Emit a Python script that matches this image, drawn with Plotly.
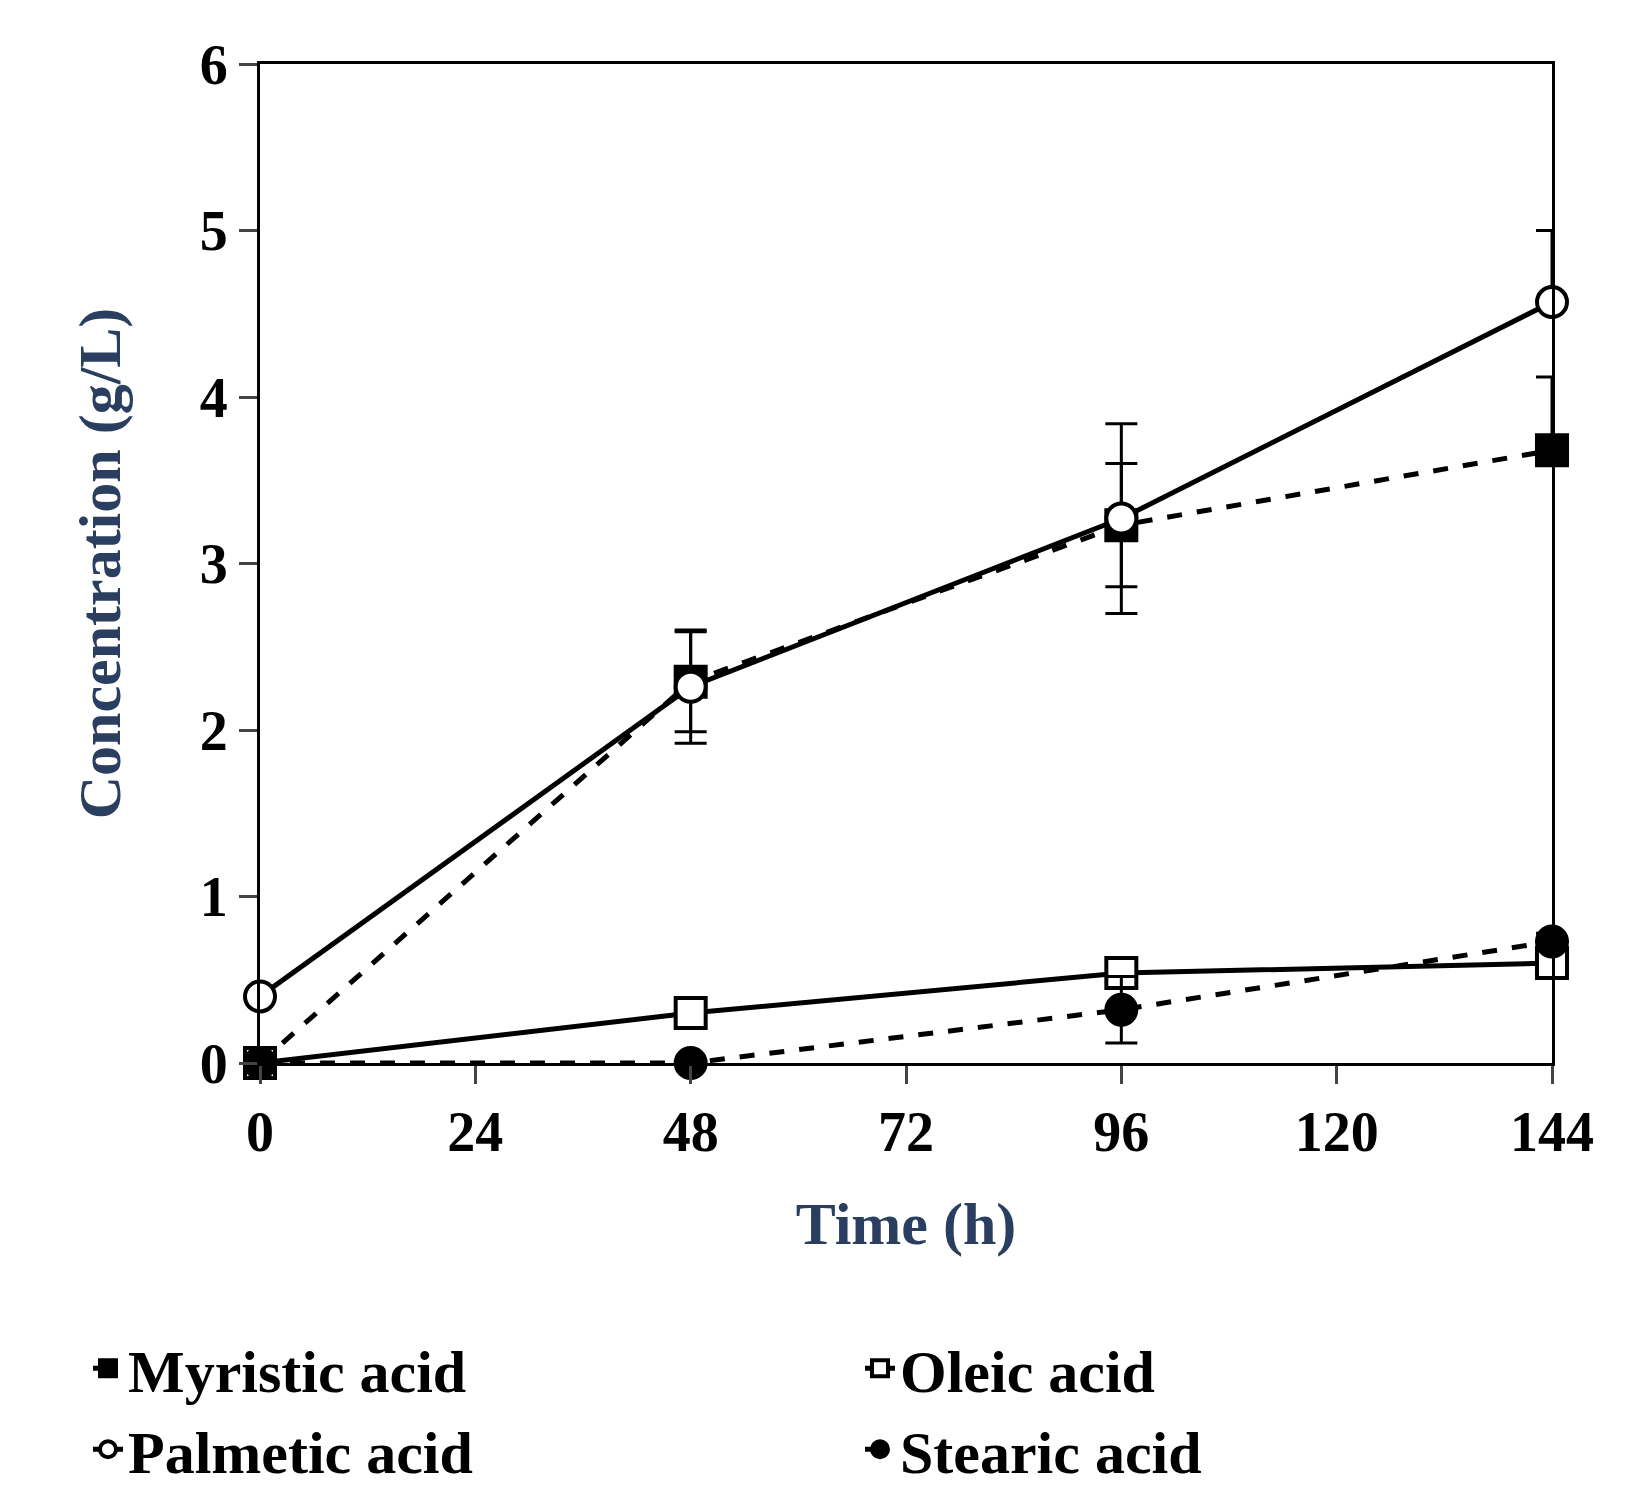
import plotly.graph_objects as go

time = [0, 48, 96, 144]
myristic = [0, 2.29, 3.23, 3.68]
myristic_err = [0, 0.3, 0.37, 0.44]
myristic_errm = [0, 0.3, 0.37, 0]
oleic = [0, 0.3, 0.54, 0.6]
palmetic = [0.4, 2.26, 3.27, 4.57]
palmetic_err = [0, 0.34, 0.57, 0.43]
palmetic_errm = [0, 0.34, 0.57, 0]
stearic = [0, 0, 0.32, 0.73]
stearic_err = [0, 0, 0.2, 0.05]

fig = go.Figure()
def add(name, y, err, errm, dash, symbol, fill):
    fig.add_trace(go.Scatter(
        x=time, y=y, name=name, mode="lines+markers", cliponaxis=False,
        line=dict(color="black", width=5, dash=dash),
        marker=dict(symbol=symbol, size=30, color=fill, line=dict(color="black", width=4)),
        error_y=dict(type="data", array=err, arrayminus=errm, color="black",
                     thickness=3, width=16) if err else None))

add("Myristic acid", myristic, myristic_err, myristic_errm, "dash", "square", "black")
add("Oleic acid", oleic, None, None, "solid", "square", "white")
add("Palmetic acid", palmetic, palmetic_err, palmetic_errm, "solid", "circle", "white")
add("Stearic acid", stearic, stearic_err, stearic_err, "dash", "circle", "black")

tf = dict(family="Liberation Serif", size=56, color="black", weight="bold")
fig.update_layout(
    width=1629, height=1501, plot_bgcolor="white", paper_bgcolor="white",
    margin=dict(l=252, r=85, t=56, b=446),
    showlegend=True,
    legend=dict(orientation="h", x=-0.05, y=-0.26, xanchor="left", yanchor="top",
                entrywidth=0.5, entrywidthmode="fraction",
                font=dict(family="Liberation Serif", size=60, color="black", weight="bold"),
                traceorder="normal", itemsizing="trace"),
    xaxis=dict(range=[0, 144], tickvals=[0, 24, 48, 72, 96, 120, 144], ticks="outside", ticklen=18,
               tickwidth=3, showline=True, linewidth=3, linecolor="black", mirror=True, showgrid=False,
               zeroline=False, tickfont=tf,
               title=dict(text="Time (h)", font=dict(family="Liberation Serif", size=60, weight="bold"), standoff=40)),
    yaxis=dict(range=[0, 6], tickvals=[0, 1, 2, 3, 4, 5, 6], ticks="outside", ticklen=18,
               tickwidth=3, showline=True, linewidth=3, linecolor="black", mirror=True, showgrid=False,
               zeroline=False, tickfont=tf,
               title=dict(text="Concentration (g/L)", font=dict(family="Liberation Serif", size=60, weight="bold"), standoff=60)),
)
fig.write_html("out.html")
